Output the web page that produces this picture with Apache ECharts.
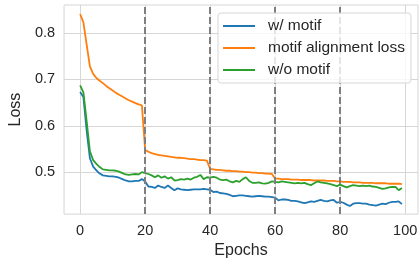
<!DOCTYPE html>
<html>
<head>
<meta charset="utf-8">
<script src="https://cdn.jsdelivr.net/npm/echarts@6/dist/echarts.min.js"></script>
<style>
  html, body { margin: 0; padding: 0; background: #fff; }
  #chart { width: 420px; height: 264px; }
</style>
</head>
<body>
<div id="chart"></div>
<script>
const epochs = Array.from({ length: 100 }, (_, i) => i)

const withMotif = [
  0.673, 0.662, 0.590, 0.530, 0.512, 0.504, 0.497, 0.493, 0.492, 0.491,
  0.491, 0.490, 0.488, 0.485, 0.482, 0.480, 0.480, 0.481, 0.481, 0.485,
  0.480, 0.469, 0.468, 0.466, 0.471, 0.468, 0.466, 0.471, 0.466, 0.461,
  0.465, 0.463, 0.462, 0.461, 0.462, 0.463, 0.463, 0.463, 0.464, 0.463,
  0.462, 0.457, 0.458, 0.455, 0.454, 0.453, 0.451, 0.448, 0.449, 0.450,
  0.450, 0.449, 0.448, 0.447, 0.448, 0.449, 0.448, 0.447, 0.447, 0.446,
  0.445, 0.439, 0.441, 0.441, 0.440, 0.438, 0.438, 0.437, 0.435, 0.433,
  0.435, 0.437, 0.436, 0.438, 0.440, 0.438, 0.437, 0.439, 0.440, 0.434,
  0.436, 0.434, 0.430, 0.427, 0.432, 0.433, 0.433, 0.432, 0.432, 0.430,
  0.429, 0.428, 0.430, 0.432, 0.431, 0.434, 0.436, 0.436, 0.437, 0.431,
]

const alignLoss = [
  0.841, 0.823, 0.775, 0.728, 0.712, 0.703, 0.697, 0.692, 0.686, 0.681,
  0.676, 0.671, 0.667, 0.663, 0.659, 0.655, 0.652, 0.649, 0.646, 0.644,
  0.548, 0.544, 0.541, 0.539, 0.537, 0.536, 0.535, 0.534, 0.533, 0.532,
  0.531, 0.531, 0.530, 0.529, 0.528, 0.528, 0.527, 0.526, 0.526, 0.525,
  0.507, 0.506, 0.505, 0.505, 0.504, 0.503, 0.503, 0.502, 0.502, 0.501,
  0.501, 0.500, 0.500, 0.499, 0.499, 0.498, 0.498, 0.497, 0.497, 0.496,
  0.486, 0.486, 0.485, 0.485, 0.485, 0.484, 0.484, 0.484, 0.483, 0.483,
  0.483, 0.483, 0.482, 0.482, 0.482, 0.482, 0.481, 0.481, 0.481, 0.480,
  0.480, 0.479, 0.479, 0.479, 0.478, 0.478, 0.478, 0.477, 0.477, 0.477,
  0.477, 0.476, 0.476, 0.476, 0.476, 0.475, 0.475, 0.475, 0.475, 0.474,
]

const withoutMotif = [
  0.687, 0.672, 0.610, 0.545, 0.526, 0.518, 0.511, 0.506, 0.505, 0.504,
  0.504, 0.503, 0.501, 0.498, 0.495, 0.494, 0.495, 0.496, 0.495, 0.500,
  0.498, 0.496, 0.493, 0.489, 0.493, 0.488, 0.491, 0.486, 0.489, 0.482,
  0.483, 0.485, 0.484, 0.486, 0.484, 0.488, 0.490, 0.494, 0.485, 0.489,
  0.488, 0.490, 0.488, 0.484, 0.483, 0.484, 0.480, 0.478, 0.481, 0.479,
  0.485, 0.489, 0.481, 0.477, 0.477, 0.478, 0.476, 0.475, 0.477, 0.480,
  0.479, 0.478, 0.480, 0.479, 0.478, 0.477, 0.476, 0.477, 0.476, 0.477,
  0.474, 0.472, 0.476, 0.480, 0.478, 0.477, 0.476, 0.474, 0.472, 0.470,
  0.473, 0.470, 0.467, 0.470, 0.472, 0.471, 0.470, 0.471, 0.470, 0.471,
  0.469, 0.468, 0.466, 0.464, 0.465, 0.467, 0.468, 0.468, 0.461, 0.466,
]

const stageEpochs = [20, 40, 60, 80]
const xTicks = [0, 20, 40, 60, 80, 100]
const yTicks = [0.5, 0.6, 0.7, 0.8]

const seriesList = [
  { name: 'w/ motif', values: withMotif, color: '#1f77b4' },
  { name: 'motif alignment loss', values: alignLoss, color: '#ff7f0e' },
  { name: 'w/o motif', values: withoutMotif, color: '#2ca02c' },
]

const font = 'Liberation Sans, Arial, sans-serif'
const textColor = '#262626'
const gridColor = '#d6d6d6'

const chart = echarts.init(document.getElementById('chart'), null, { renderer: 'canvas' })

const series = seriesList.map(s => ({
  name: s.name,
  type: 'line',
  data: epochs.map((e, i) => [e, s.values[i]]),
  showSymbol: false,
  lineStyle: { color: s.color, width: 1.8 },
  itemStyle: { color: s.color },
  animation: false,
  z: 2,
}))

// stage boundaries, over the curves; the legend sits on its own layer above
series.push({
  name: 'stages',
  type: 'line',
  data: [],
  z: 3,
  animation: false,
  markLine: {
    silent: true,
    symbol: 'none',
    label: { show: false },
    lineStyle: { color: '#7f7f7f', type: [7, 3], width: 2 },
    data: stageEpochs.map(x => ({ xAxis: x })),
    animation: false,
  },
})

chart.setOption({
  backgroundColor: '#fff',
  animation: false,
  grid: {
    left: 57,
    right: 0,
    top: 5,
    bottom: 43,
    show: true,
    borderColor: gridColor,
    borderWidth: 1,
    containLabel: false,
  },
  legend: {
    data: seriesList.map(s => s.name),
    orient: 'vertical',
    left: 218,
    top: 13,
    zlevel: 1,
    icon: 'rect',
    itemWidth: 32,
    itemHeight: 2,
    itemGap: 6,
    padding: [5, 6, 5, 5],
    backgroundColor: 'rgba(255,255,255,0.8)',
    borderColor: gridColor,
    borderWidth: 1,
    borderRadius: 3,
    textStyle: {
      fontFamily: font,
      fontSize: 15.5,
      color: textColor,
      lineHeight: 16,
      padding: [0, 0, 0, 8],
    },
  },
  xAxis: {
    type: 'value',
    min: -4.95,
    max: 103.95,
    name: 'Epochs',
    nameLocation: 'middle',
    nameGap: 27,
    nameTextStyle: { fontFamily: font, fontSize: 16, color: textColor },
    axisLine: { show: false },
    axisTick: { show: false, customValues: xTicks },
    axisLabel: {
      customValues: xTicks,
      fontFamily: font,
      fontSize: 14.5,
      color: textColor,
      margin: 9,
    },
    splitLine: { show: true, lineStyle: { color: gridColor, width: 1 } },
  },
  yAxis: {
    type: 'value',
    min: 0.4095,
    max: 0.8605,
    name: 'Loss',
    nameLocation: 'middle',
    nameGap: 38,
    nameTextStyle: { fontFamily: font, fontSize: 16, color: textColor },
    axisLine: { show: false },
    axisTick: { show: false, customValues: yTicks },
    axisLabel: {
      customValues: yTicks,
      formatter: v => v.toFixed(1),
      fontFamily: font,
      fontSize: 14.5,
      color: textColor,
      margin: 9,
    },
    splitLine: { show: true, lineStyle: { color: gridColor, width: 1 } },
  },
  series,
})
</script>
</body>
</html>
